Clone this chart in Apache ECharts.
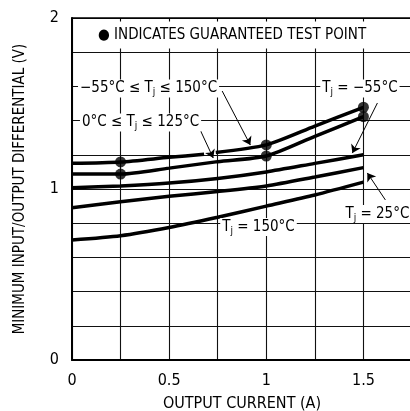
<!DOCTYPE html>
<html>
<head>
<meta charset="utf-8">
<script src="https://cdn.jsdelivr.net/npm/echarts@6/dist/echarts.min.js"></script>
<style>
html,body{margin:0;padding:0;background:#fff;}
#c{width:410px;height:411px;}
</style>
</head>
<body>
<div id="c"></div>
<script>
// ---- data ----
const xs = [0, 0.25, 0.5, 0.75, 1, 1.25, 1.5];
const curve1X = [0, 0.25, 0.5, 0.68, 0.71, 0.74, 1, 1.25, 1.5];
const curve1Y = [1.15, 1.158, 1.185, 1.203, null, 1.214, 1.258, 1.368, 1.478];
const curve2Y = [1.087, 1.087, 1.122, 1.16, 1.193, 1.308, 1.423];
const curve3Y = [1.007, 1.018, 1.035, 1.062, 1.1, 1.15, 1.2];
const curve4Y = [0.89, 0.925, 0.957, 0.985, 1.018, 1.07, 1.125];
const curve5Y = [0.702, 0.727, 0.775, 0.835, 0.9, 0.965, 1.04];
const testX = [0.25, 1, 1.5];
const testHigh = [1.158, 1.258, 1.478];
const testLow = [1.087, 1.193, 1.423];
const yTickLabels = [0, 1, 2];
const xTickLabels = [0, 0.5, 1, 1.5];
const xTitle = 'OUTPUT CURRENT (A)';
const yTitle = 'MINIMUM INPUT/OUTPUT DIFFERENTIAL (V)';
const legendNote = '● INDICATES GUARANTEED TEST POINT';

// annotations (text, anchor in data units) and arrows (from -> to in data units)
const annoText = [
  '−55°C ≤ T{s|j} ≤ 150°C',
  '0°C ≤ T{s|j} ≤ 125°C',
  'T{s|j} = −55°C',
  'T{s|j} = 25°C',
  'T{s|j} = 150°C'
];
const annoAt = [[0.031, 1.6], [0.041, 1.4], [1.278, 1.6], [1.397, 0.865], [0.763, 0.79]];
const arrowFrom = [[0.773, 1.573], [0.655, 1.357], [1.572, 1.503], [1.613, 0.936]];
const arrowTo = [[0.918, 1.257], [0.727, 1.181], [1.443, 1.21], [1.52, 1.094]];

const FONT = "'Liberation Sans Narrow','DejaVu Sans Condensed','Liberation Sans',sans-serif";
const pairs = (x, y) => x.map((v, i) => [v, y[i]]);
const near = (v, list) => list.some(t => Math.abs(v - t) < 1e-6);

const chart = echarts.init(document.getElementById('c'), null, {renderer: 'canvas'});

const lineSeries = (data) => ({
  type: 'line', data, xAxisIndex: 0, yAxisIndex: 0,
  smooth: 0.25, showSymbol: false, silent: true, connectNulls: false,
  lineStyle: {color: '#000', width: 3.5}, z: 3
});

chart.setOption({
  animation: false,
  backgroundColor: '#fff',
  grid: {left: 72, top: 18, right: -2, bottom: 51, containLabel: false, outerBoundsMode: 'none'},
  xAxis: [{
    type: 'value', min: 0, max: 1.75, interval: 0.25, position: 'bottom',
    name: xTitle, nameLocation: 'middle', nameGap: 36,
    nameTextStyle: {fontFamily: FONT, fontSize: 16, color: '#000'},
    axisLine: {show: true, lineStyle: {color: '#000', width: 2}},
    axisTick: {show: false},
    axisLabel: {fontFamily: FONT, fontSize: 16, color: '#000', margin: 13,
      formatter: v => near(v, xTickLabels) ? String(v) : ''},
    splitLine: {show: true, lineStyle: {color: '#111', width: 1.1}}
  }, {
    type: 'value', min: 0, max: 1.75, interval: 0.25, position: 'top',
    axisLine: {show: true, lineStyle: {color: '#000', width: 1.5}},
    axisTick: {show: true, inside: true, length: 5, lineStyle: {color: '#000', width: 1}},
    axisLabel: {show: false}, splitLine: {show: false}
  }],
  yAxis: {
    type: 'value', min: 0, max: 2, interval: 0.2,
    name: yTitle, nameLocation: 'middle', nameGap: 44, nameRotate: 90,
    nameTextStyle: {fontFamily: FONT, fontSize: 15, color: '#000'},
    axisLine: {show: true, lineStyle: {color: '#000', width: 2}},
    axisTick: {show: false},
    axisLabel: {fontFamily: FONT, fontSize: 16, color: '#000', margin: 13,
      formatter: v => near(v, yTickLabels) ? String(Math.round(v)) : ''},
    splitLine: {show: true, lineStyle: {color: '#111', width: 1.1}}
  },
  series: [
    lineSeries(pairs(curve1X, curve1Y)),
    lineSeries(pairs(xs, curve2Y)),
    lineSeries(pairs(xs, curve3Y)),
    lineSeries(pairs(xs, curve4Y)),
    lineSeries(pairs(xs, curve5Y)),
    {
      type: 'scatter', silent: true, z: 4,
      data: pairs(testX, testHigh).concat(pairs(testX, testLow)),
      symbol: 'circle', symbolSize: 11, itemStyle: {color: '#000'},
      markLine: {
        silent: true, symbol: ['none', 'arrow'], symbolSize: 8, animation: false,
        label: {show: false},
        lineStyle: {color: '#000', width: 1, type: 'solid'},
        emphasis: {disabled: true},
        data: arrowFrom.map((f, i) => [{coord: f}, {coord: arrowTo[i]}])
      }
    }
  ]
});

const rich = {s: {fontSize: 10, fontFamily: FONT, fill: '#000', padding: [8, 0, 0, 0]}};
const graphics = annoText.map((t, i) => {
  const p = chart.convertToPixel({gridIndex: 0}, annoAt[i]);
  return {
    type: 'text', x: p[0], y: p[1] + 2, z: 100, silent: true,
    style: {text: t, rich, fontFamily: FONT, fontSize: 15, fill: '#000',
      align: 'left', verticalAlign: 'middle', backgroundColor: '#fff', padding: [0, 2]}
  };
});
graphics.push({
  type: 'text', x: 92, y: 35, z: 100, silent: true,
  style: {text: legendNote, fontFamily: FONT, fontSize: 15, fill: '#000',
    align: 'left', verticalAlign: 'middle', backgroundColor: '#fff', padding: [6, 6]}
});
chart.setOption({graphic: graphics});
</script>
</body>
</html>
